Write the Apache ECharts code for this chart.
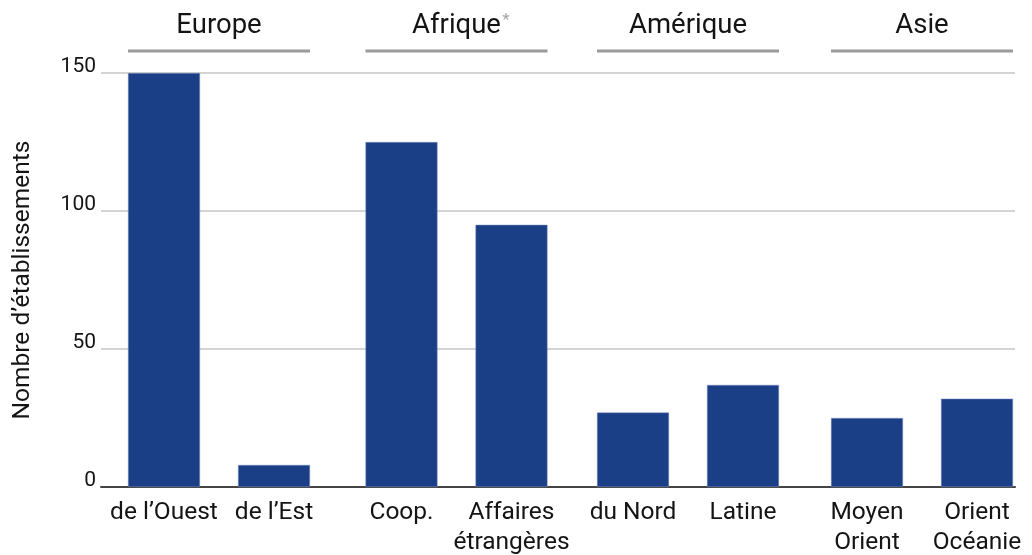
<!DOCTYPE html>
<html>
<head>
<meta charset="utf-8">
<script src="https://cdn.jsdelivr.net/npm/echarts@6/dist/echarts.min.js"></script>
<style>
  html, body { margin: 0; padding: 0; background: #fff; }
  #chart { width: 1032px; height: 555px; }
</style>
</head>
<body>
<div id="chart"></div>
<script>
// Regions (group headers) and their two sub-categories
const groupNames = ['Europe', 'Afrique', 'Amérique', 'Asie'];
const europeCats = ['de l’Ouest', 'de l’Est'];
const afriqueCats = ['Coop.', 'Affaires\nétrangères'];
const ameriqueCats = ['du Nord', 'Latine'];
const asieCats = ['Moyen\nOrient', 'Orient\nOcéanie'];

// Number of establishments per sub-category
const europeValues = [150, 8];
const afriqueValues = [125, 95];
const ameriqueValues = [27, 37];
const asieValues = [25, 32];

// Value axis ticks
const yTicks = [0, 50, 100, 150];
const yTitle = 'Nombre d’établissements';

// Layout
const FONT = 'Roboto';
const BAR_COLOR = '#1b3f87';
const TEXT_COLOR = '#141414';
const PLOT_TOP = 73;
const PLOT_BOTTOM = 68;
const GROUP_WIDTH = 220;
const BAR_WIDTH = 72;
const groupLefts = [109, 346.5, 578, 812];

const groups = [
  { cats: europeCats, values: europeValues },
  { cats: afriqueCats, values: afriqueValues },
  { cats: ameriqueCats, values: ameriqueValues },
  { cats: asieCats, values: asieValues }
];

const yMin = yTicks[0];
const yMax = yTicks[yTicks.length - 1];
const yStep = yTicks[1] - yTicks[0];

const grids = [{
  left: 101, right: 17, top: PLOT_TOP, bottom: PLOT_BOTTOM, outerBoundsMode: 'none'
}];
const xAxes = [{
  gridIndex: 0, type: 'value', min: 0, max: 1,
  axisLine: { show: true, lineStyle: { color: '#444', width: 2 } },
  axisTick: { show: false }, axisLabel: { show: false }, splitLine: { show: false }
}];
const yAxes = [{
  gridIndex: 0, type: 'value', min: yMin, max: yMax, interval: yStep,
  name: yTitle, nameLocation: 'middle', nameRotate: 90, nameGap: 66,
  nameTextStyle: { fontFamily: FONT, fontSize: 24.5, color: TEXT_COLOR },
  axisLine: { show: false }, axisTick: { show: false },
  axisLabel: {
    fontFamily: FONT, fontSize: 21, color: TEXT_COLOR, margin: 5,
    verticalAlign: 'bottom', lineHeight: 12
  },
  splitLine: { show: true, lineStyle: { color: '#d4d4d4', width: 2 } }
}];
const series = [];

groups.forEach(function (g, i) {
  const gi = i + 1;
  grids.push({
    left: groupLefts[i], width: GROUP_WIDTH, top: PLOT_TOP, bottom: PLOT_BOTTOM,
    outerBoundsMode: 'none'
  });
  xAxes.push({
    gridIndex: gi, type: 'category', data: g.cats,
    axisLine: { show: false }, axisTick: { show: false }, splitLine: { show: false },
    axisLabel: {
      fontFamily: FONT, fontSize: 24.5, color: TEXT_COLOR, margin: 11,
      lineHeight: 30, interval: 0
    }
  });
  yAxes.push({ gridIndex: gi, type: 'value', min: yMin, max: yMax, interval: yStep, show: false });
  series.push({
    type: 'bar', xAxisIndex: gi, yAxisIndex: gi, data: g.values,
    barWidth: BAR_WIDTH,
    itemStyle: { color: BAR_COLOR, borderColor: '#8094c2', borderWidth: 0.5 },
    silent: true, animation: false
  });
});

// Group headers: name above a grey rule spanning the group's two bars
const graphic = [];
groupNames.forEach(function (name, i) {
  const x1 = groupLefts[i] + (GROUP_WIDTH / 2 - BAR_WIDTH) / 2;
  const x2 = groupLefts[i] + GROUP_WIDTH - (GROUP_WIDTH / 2 - BAR_WIDTH) / 2;
  const cx = (x1 + x2) / 2;
  graphic.push({
    type: 'line', shape: { x1: x1, y1: 51, x2: x2, y2: 51 },
    style: { stroke: '#9a9a9a', lineWidth: 3 }, silent: true
  });
  const isAfrique = name === 'Afrique';
  graphic.push({
    type: 'text', x: cx, y: 26,
    style: {
      text: isAfrique ? '{p|}{a|' + name + '}{s|*}' : name,
      fontFamily: FONT, fontSize: 27.5, fill: TEXT_COLOR,
      align: 'center', verticalAlign: 'middle',
      rich: isAfrique ? {
        p: { width: 10 },
        a: { fontFamily: FONT, fontSize: 27.5, fill: TEXT_COLOR },
        s: { fontFamily: FONT, fontSize: 17, fill: '#a8a8a8', width: 10, verticalAlign: 'top' }
      } : undefined
    },
    silent: true
  });
});

const chart = echarts.init(document.getElementById('chart'), null, { renderer: 'canvas' });
chart.setOption({
  animation: false,
  backgroundColor: '#ffffff',
  textStyle: { fontFamily: FONT },
  grid: grids,
  xAxis: xAxes,
  yAxis: yAxes,
  series: series,
  graphic: graphic
});
</script>
</body>
</html>
